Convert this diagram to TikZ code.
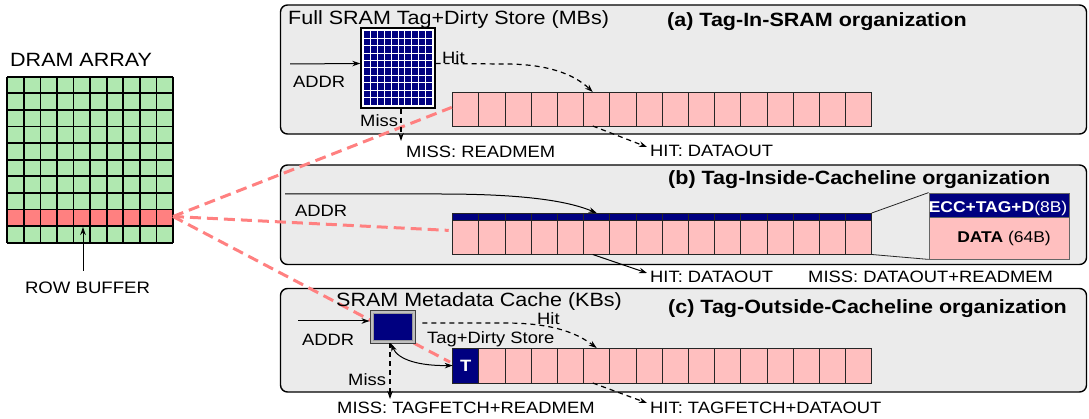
\documentclass[tikz,border=0pt]{standalone}
\usepackage{fontspec}
\setmainfont{Liberation Sans}[FakeStretch=1.12]
\usetikzlibrary{arrows.meta}
\definecolor{panelgray}{RGB}{235,235,235}
\definecolor{cellpink}{RGB}{255,191,191}
\definecolor{navy}{RGB}{0,0,128}
\definecolor{dgreen}{RGB}{176,232,176}
\definecolor{rowred}{RGB}{255,128,128}
\newcommand\lblfont{\fontsize{16.4}{19}\selectfont}
\newcommand\ttlfont{\fontsize{19.2}{22}\selectfont}
\newcommand\smlfont{\fontsize{15.6}{18}\selectfont}
\begin{document}
\begin{tikzpicture}[x=1pt,y=-1pt,
  panel/.style={draw=black,line width=1.4pt,fill=panelgray,rounded corners=7pt},
  cell/.style={draw=black!85,line width=0.9pt,fill=cellpink,minimum width=26.19pt,minimum height=34pt,inner sep=0,outer sep=0},
  tagstrip/.style={draw=black!85,line width=0.9pt,fill=navy,minimum width=26.19pt,minimum height=7.7pt,inner sep=0,outer sep=0},
  txt/.style={inner sep=0,anchor=base west,font=\lblfont},
  ttl/.style={inner sep=0,anchor=base west,font=\ttlfont\bfseries},
  hd/.style={inner sep=0,anchor=base west,font=\ttlfont},
  arr/.style={line width=1pt,-{Stealth[length=8pt,width=5.5pt]}},
  dline/.style={line width=1.2pt,dash pattern=on 5pt off 4pt,-{Stealth[length=8pt,width=5.5pt]}},
  reddash/.style={draw=rowred,line width=3pt,dash pattern=on 11pt off 6pt},
]
\useasboundingbox (0,0) rectangle (1089,419);

% ---------- DRAM array ----------
\node[hd] (dramlbl) at (10,66.7) {DRAM ARRAY};
\fill[dgreen] (7.3,76.7) rectangle (173,242.7);
\fill[rowred] (7.3,209.5) rectangle (173,226.1);
\foreach \k in {0,...,10} {
  \draw[line width=1.8pt] ({7.3+16.57*\k},76.7) -- ({7.3+16.57*\k},242.7);
  \draw[line width=1.8pt] (7.3,{76.7+16.6*\k}) -- (173,{76.7+16.6*\k});
}
\coordinate (rb) at (173,216.5);
\coordinate (rbcell) at (83,227);
\node[inner sep=0,anchor=base,font=\fontsize{16.6}{19}\selectfont] (rowbuf) at (87.5,293.3) {ROW BUFFER};
\draw[arr] (83,271) -- (rbcell);

% ---------- panels ----------
\node[panel,minimum width=806pt,minimum height=129pt,inner sep=0] (panA) at (683.5,69.5) {};
\node[panel,minimum width=806pt,minimum height=99.5pt,inner sep=0] (panB) at (683.5,214.75) {};
\node[panel,minimum width=806pt,minimum height=103.5pt,inner sep=0] (panC) at (683.5,340.25) {};

% ---------- cache lines ----------
\foreach \i in {0,...,15} {
  \node[cell] (a\i) at ({452.7+26.19*(\i+0.5)},109) {};
  \node[cell,minimum height=33.8pt] (b\i) at ({452.7+26.19*(\i+0.5)},237.6) {};
  \node[tagstrip] (s\i) at ({452.7+26.19*(\i+0.5)},216.85) {};
}
\node[cell,minimum height=35pt,fill=navy,text=white,font=\lblfont\bfseries] (c0) at ({452.7+26.19*0.5},365.5) {T};
\foreach \i in {1,...,15} {
  \node[cell,minimum height=35pt] (c\i) at ({452.7+26.19*(\i+0.5)},365.5) {};
}

% ---------- red dashed lines ----------
\draw[reddash,shorten >=1pt] (rb) -- ([yshift=2pt]a0.west);
\draw[reddash,shorten >=4pt] (rb) -- ([yshift=7pt]b0.west);
\draw[reddash,shorten >=3pt] (rb) -- ([yshift=2pt]c0.west);

% ---------- panel (a) ----------
\node[hd] (fullsram) at (288,25) {Full SRAM Tag+Dirty Store (MBs)};
\node[ttl] (ttlA) at (667,26.5) {(a) Tag-In-SRAM organization};
\node[draw=black,line width=1.4pt,fill=white,minimum width=74pt,minimum height=80pt,inner sep=0] (sramA) at (398,68) {};
\fill[navy] (364,31) rectangle (432,105);
\foreach \k in {1,...,9} {
  \draw[white,line width=1pt] ({364+6.8*\k},31) -- ({364+6.8*\k},105);
  \draw[white,line width=1pt] (364,{31+7.4*\k}) -- (432,{31+7.4*\k});
}
\coordinate (addrA) at (290,64);
\draw[arr] (addrA) -- ([yshift=4.5pt]sramA.west);
\node[txt] (addrAl) at (293,87.3) {ADDR};
\node[txt] (hitAl) at (442,63.3) {Hit};
\draw[dline] ([yshift=4.5pt]sramA.east) -- (505,64) .. controls (555,64) and (578,78) .. ([xshift=-4pt]a5.north);
\node[txt] (missAl) at (360,126.7) {Miss};
\coordinate (missAend) at (401,141);
\draw[dline] (sramA.south -| missAend) -- (missAend);
\node[txt] (missA) at (406,157.3) {MISS: READMEM};
\node[txt] (hitA) at (650,156.7) {HIT: DATAOUT};
\coordinate (hitAtip) at (647,147);
\draw[dline] ([xshift=-4pt]a5.south) -- (hitAtip);

% ---------- panel (b) ----------
\node[ttl] (ttlB) at (668,185) {(b) Tag-Inside-Cacheline organization};
\coordinate (addrB) at (285,194);
\draw[arr] (addrB) -- (440,194) .. controls (530,194) and (570,202) .. (s5.north);
\node[txt] (addrBl) at (295,216.7) {ADDR};
\node[fill=navy,draw=black!60,line width=0.8pt,minimum width=140pt,minimum height=24pt,inner sep=0] (ecc) at (999,205) {};
\node[fill=cellpink,draw=black!60,line width=0.8pt,minimum width=140pt,minimum height=42pt,inner sep=0] (data) at (999,238) {};
\draw[black!85,line width=0.8pt] (s15.north east) -- (ecc.north west);
\draw[black!85,line width=0.8pt] (b15.south east) -- (data.south west);
\node[inner sep=0,anchor=base,font=\smlfont,text=white] (eccl) at (998,212.3) {\bfseries ECC+TAG+D\mdseries(8B)};
\node[inner sep=0,anchor=base,font=\smlfont] (datal) at (1004,242.3) {\bfseries DATA \mdseries(64B)};
\coordinate (hitBtip) at (647,273);
\draw[arr] ([xshift=-4pt]b5.south) -- (hitBtip);
\node[txt] (hitB) at (650,282.7) {HIT: DATAOUT};
\node[txt] (missB) at (808,282.7) {MISS: DATAOUT+READMEM};

% ---------- panel (c) ----------
\node[hd] (metal) at (336,306.7) {SRAM Metadata Cache (KBs)};
\node[ttl] (ttlC) at (668,313.3) {(c) Tag-Outside-Cacheline organization};
\node[draw=black!75,fill=black!25,line width=0.9pt,minimum width=45pt,minimum height=33pt,inner sep=0] (sramC) at (392.5,326.5) {};
\node[fill=navy,draw=black!40,line width=0.6pt,minimum width=39pt,minimum height=27pt,inner sep=0] (sramCin) at (392.5,326.5) {};
\coordinate (addrC) at (298,321);
\draw[arr] (addrC) -- ([yshift=5.5pt]sramC.west);
\node[txt] (addrCl) at (302,345.7) {ADDR};
\node[txt] (hitCl) at (537,324.3) {Hit};
\node[txt] (tdsl) at (427,343.3) {Tag+Dirty Store};
\draw[dline] ([xshift=7pt,yshift=3.5pt]sramC.east) -- (505,323) .. controls (555,323) and (578,334) .. (c5.north);
\draw[line width=1pt,{Stealth[length=8pt,width=5.5pt]}-{Stealth[length=8pt,width=5.5pt]}] ([xshift=-1.5pt]sramC.south) .. controls (398,360) and (420,366) .. (c0.west);
\node[txt] (missCl) at (348,385.7) {Miss};
\coordinate (missCend) at (390,399);
\draw[dline] ([xshift=-2.5pt]sramC.south) -- (missCend);
\node[txt] (missC) at (337,413.3) {MISS: TAGFETCH+READMEM};
\coordinate (hitCtip) at (647,403);
\draw[dline] ([xshift=-4pt]c5.south) -- (hitCtip);
\node[txt] (hitC) at (650,413.3) {HIT: TAGFETCH+DATAOUT};
\end{tikzpicture}
\end{document}
